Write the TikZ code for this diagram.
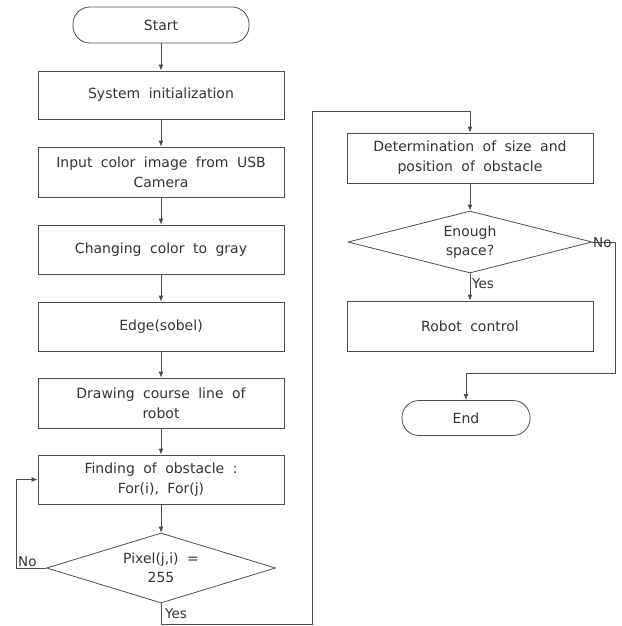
\documentclass[tikz,border=0pt]{standalone}
\usepackage{fontspec}
\setmainfont[WordSpace=1.9]{DejaVu Sans}
\usetikzlibrary{shapes.geometric,arrows.meta}
\begin{document}
\begin{tikzpicture}[x=1pt, y=-1pt,
    every node/.style={font=\fontsize{14}{20}\selectfont, text=black!80},
    process/.style={rectangle, draw=black!70, line width=0.8pt, minimum width=246pt, minimum height=49pt, align=center, inner sep=2pt},
    terminal/.style={rectangle, draw=black!70, line width=0.8pt, rounded corners=17pt, minimum height=36pt},
    decision/.style={diamond, draw=black!70, line width=0.8pt, inner sep=0pt, align=center, font=\fontsize{14}{19}\selectfont},
    flow/.style={-{Latex[length=6pt,width=5pt]}, draw=black!70, line width=0.8pt},
    tag/.style={inner sep=1pt, font=\fontsize{13.5}{15}\selectfont}]
        \useasboundingbox (0,0) rectangle (621,626);

        % Draw the left column of steps
        \node[terminal, minimum width=176pt] (start) at (161,25) {Start};
        \node[process, minimum height=48pt] (init) at (161,95) {System initialization};
        \node[process, minimum height=50pt] (input) at (161,172) {Input color image from USB\\Camera};
        \node[process] (gray) at (161,249.5) {Changing color to gray};
        \node[process] (edge) at (161,326.5) {Edge(sobel)};
        \node[process, minimum height=50pt] (course) at (161,403) {Drawing course line of\\robot};
        \node[process] (find) at (161,479.5) {Finding of obstacle :\\For(i), For(j)};
        \node[decision, aspect=3.27, minimum width=229pt, minimum height=70pt] (pixel) at (161,568) {Pixel(j,i) =\\255};

        % Draw the right column of steps
        \node[process, minimum height=50pt] (size) at (470,158) {Determination of size and\\position of obstacle};
        \node[decision, aspect=3.9, minimum width=244pt, minimum height=62pt] (space) at (470,242) {Enough\\space?};
        \node[process, minimum height=50pt] (robot) at (470,326) {Robot control};
        \node[terminal, minimum width=128pt, minimum height=35pt] (end) at (466,418) {End};

        % Corner points of the long connectors
        \coordinate (yes1) at (161,624);
        \coordinate (yes2) at (312,624);
        \coordinate (yes3) at (312,111);
        \coordinate (no1) at (16,568);
        \coordinate (no2) at (615,242);
        \coordinate (no3) at (615,373);

        % Draw arrows between steps
        \draw[flow] (start) -- (init);
        \draw[flow] (init) -- (input);
        \draw[flow] (input) -- (gray);
        \draw[flow] (gray) -- (edge);
        \draw[flow] (edge) -- (course);
        \draw[flow] (course) -- (find);
        \draw[flow] (find) -- (pixel);
        \draw[flow] (pixel.south) -- (yes1) -- (yes2) -- (yes3) -| (size.north);
        \draw[flow] (pixel.west) -- (no1) |- (find.west);
        \draw[flow] (size) -- (space);
        \draw[flow] (space.south) -- (robot.north);
        \draw[flow] (space.east) -- (no2) -- (no3) -| (end.north);

        % Insert the labels of the branches
        \node[tag, anchor=west] (yesA) at (164,614) {Yes};
        \node[tag, anchor=south west] (noA) at (17,568) {No};
        \node[tag, anchor=west] (yesB) at (471,284) {Yes};
        \node[tag, anchor=south west] (noB) at (592,249) {No};

    \end{tikzpicture}
\end{document}
